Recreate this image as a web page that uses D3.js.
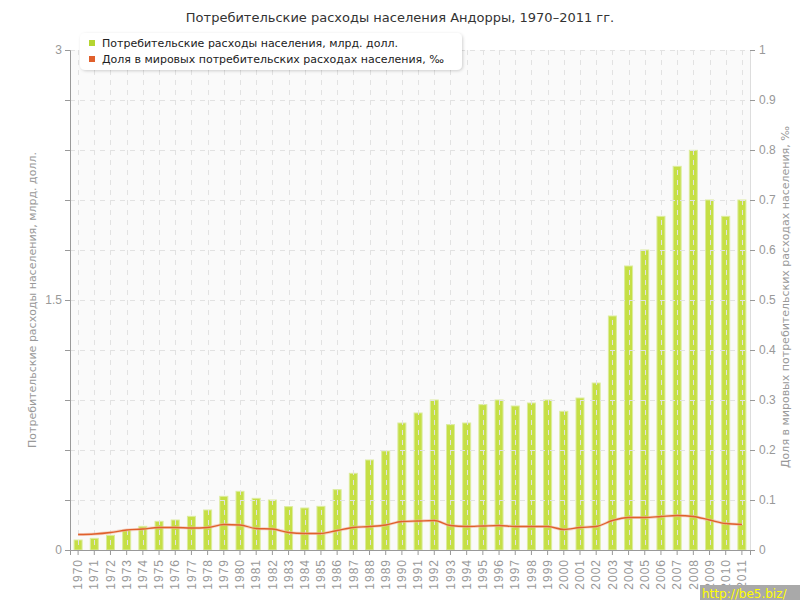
<!DOCTYPE html>
<html><head><meta charset="utf-8">
<script src="https://cdn.jsdelivr.net/npm/d3@7"></script>
<style>
body{margin:0;background:#fff;}
svg{display:block;font-family:"DejaVu Sans",Verdana,sans-serif;}
</style></head>
<body>
<svg id="chart" width="800" height="600"></svg>
<script>
const years = d3.range(1970, 2012).map(String);
const spending = [0.06,0.07,0.088,0.118,0.142,0.172,0.18,0.202,0.24,0.322,0.352,0.31,0.30,0.26,0.252,0.262,0.362,0.46,
  0.54,0.594,0.762,0.822,0.90,0.752,0.762,0.872,0.90,0.864,0.882,0.90,0.832,0.912,1.002,1.404,1.704,1.80,2.002,2.302,2.398,2.10,2.002,2.10];
const share = [0.031,0.032,0.035,0.04,0.042,0.045,0.045,0.044,0.045,0.051,0.05,0.043,0.042,0.035,0.033,0.033,0.039,0.045,
  0.047,0.05,0.057,0.058,0.059,0.049,0.047,0.048,0.049,0.047,0.047,0.047,0.041,0.045,0.047,0.059,0.065,0.065,0.067,0.069,0.067,0.06,0.053,0.051];
const leftTicks = [0, 1.5, 3];
const rightTicks = [0,0.1,0.2,0.3,0.4,0.5,0.6,0.7,0.8,0.9,1];
const title = "Потребительские расходы населения Андорры, 1970–2011 гг.";
const seriesNames = ["Потребительские расходы населения, млрд. долл.", "Доля в мировых потребительских расходах населения, ‰"];
const leftTitle = "Потребительские расходы населения, млрд. долл.";
const rightTitle = "Доля в мировых потребительских расходах населения, ‰";

const svg = d3.select("#chart");
const L = 70, R = 750, T = 50, B = 550;
const x = d3.scaleBand().domain(years).range([L, R]).padding(0);
const yL = d3.scaleLinear().domain([0, 3]).range([B, T]);
const yR = d3.scaleLinear().domain([0, 1]).range([B, T]);

// background
svg.append("rect").attr("x", L).attr("y", T).attr("width", R - L).attr("height", B - T).attr("fill", "#fafafa");

// bars
svg.append("g").selectAll("rect").data(spending).join("rect")
  .attr("x", (d, i) => x(years[i]) + x.bandwidth() / 2 - 4)
  .attr("width", 8)
  .attr("y", d => yL(d))
  .attr("height", d => B - yL(d))
  .attr("fill", "#c5df45")
  .attr("stroke", "#dbec9c").attr("stroke-width", 1);

// grid
const grid = svg.append("g").attr("stroke", "#e2e2e2").attr("stroke-dasharray", "5,5").attr("stroke-width", 1);
grid.selectAll("line.h").data(d3.range(0, 3.01, 0.3).slice(1)).join("line")
  .attr("x1", L).attr("x2", R).attr("y1", d => Math.round(yL(d)) + 0.5).attr("y2", d => Math.round(yL(d)) + 0.5);
grid.selectAll("line.v").data(years).join("line")
  .attr("x1", d => Math.round(x(d) + x.bandwidth() / 2) + 0.5).attr("x2", d => Math.round(x(d) + x.bandwidth() / 2) + 0.5)
  .attr("y1", T).attr("y2", B);

// line
const line = d3.line().x((d, i) => x(years[i]) + x.bandwidth() / 2).y(d => yR(d)).curve(d3.curveMonotoneX);
svg.append("path").datum(share).attr("d", line).attr("fill", "none").attr("stroke", "#f0b8a0").attr("stroke-width", 3).attr("opacity", 0.6);
svg.append("path").datum(share).attr("d", line).attr("fill", "none").attr("stroke", "#e0602c").attr("stroke-width", 1.3);

// left axis
const axL = svg.append("g").attr("transform", `translate(${L},0)`)
  .call(d3.axisLeft(yL).tickValues(d3.range(0, 3.01, 0.3)).tickSize(5).tickFormat(d => leftTicks.some(t => Math.abs(t - d) < 1e-6) ? String(+d.toFixed(1)) : ""));
axL.select(".domain").attr("stroke", "#999");
axL.selectAll(".tick line").attr("stroke", "#999");
axL.selectAll("text").attr("fill", "#999").attr("font-size", 12).attr("x", -8);

// right axis
const axR = svg.append("g").attr("transform", `translate(${R},0)`)
  .call(d3.axisRight(yR).tickValues(rightTicks).tickSize(5).tickFormat(d => d === 0 || d === 1 ? String(d) : d.toFixed(1)));
axR.select(".domain").attr("stroke", "#ddd");
axR.selectAll(".tick line").attr("stroke", "#999");
axR.selectAll("text").attr("fill", "#999").attr("font-size", 12).attr("x", 9);

// bottom axis
const axB = svg.append("g").attr("transform", `translate(0,${B})`)
  .call(d3.axisBottom(x).tickSize(5));
axB.select(".domain").attr("stroke", "#999");
axB.selectAll(".tick line").attr("stroke", "#999");
axB.selectAll("text").attr("fill", "#999").attr("font-size", 12).attr("letter-spacing", 1)
  .attr("transform", "rotate(-90)").attr("text-anchor", "end").attr("x", -9).attr("y", 0).attr("dy", "0.35em");

// axis titles
svg.append("text").attr("transform", `translate(36,${(T + B) / 2}) rotate(-90)`).attr("text-anchor", "middle")
  .attr("fill", "#999").attr("font-size", 11).text(leftTitle);
svg.append("text").attr("transform", `translate(789,${(T + B) / 2 - 3}) rotate(-90)`).attr("text-anchor", "middle")
  .attr("fill", "#999").attr("font-size", 11).text(rightTitle);

// title
svg.append("text").attr("x", 400).attr("y", 22).attr("text-anchor", "middle").attr("fill", "#333").attr("font-size", 13).text(title);

// legend
const lg = svg.append("g");
const defs = svg.append("defs");
const f = defs.append("filter").attr("id", "sh").attr("x", "-10%").attr("y", "-30%").attr("width", "120%").attr("height", "160%");
f.append("feDropShadow").attr("dx", 1).attr("dy", 1).attr("stdDeviation", 1.5).attr("flood-color", "#000").attr("flood-opacity", 0.18);
lg.append("rect").attr("x", 80).attr("y", 33).attr("width", 382).attr("height", 37).attr("rx", 5)
  .attr("fill", "#fff").attr("filter", "url(#sh)");
const colors = ["#b5d531", "#e0602c"];
seriesNames.forEach((n, i) => {
  lg.append("rect").attr("x", 89).attr("y", 40 + i * 16).attr("width", 6).attr("height", 6).attr("fill", colors[i]);
  lg.append("text").attr("x", 102).attr("y", 47 + i * 16).attr("fill", "#222").attr("font-size", 11).text(n);
});

// watermark
svg.append("rect").attr("x", 700).attr("y", 585).attr("width", 100).attr("height", 15).attr("fill", "#a9a9a9");
svg.append("text").attr("x", 702).attr("y", 598).attr("fill", "#ffff00").attr("font-size", 12).text("http://be5.biz/");
</script>
</body></html>
